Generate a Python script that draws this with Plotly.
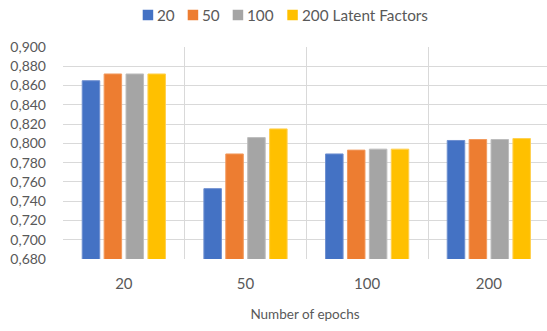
import plotly.graph_objects as go

# Data: RMSE-like score by number of epochs for each latent-factor setting
epochs = ["20", "50", "100", "200"]
series_names = ["20", "50", "100", "200 Latent Factors"]
lf20 = [0.865, 0.753, 0.789, 0.803]
lf50 = [0.872, 0.789, 0.793, 0.804]
lf100 = [0.872, 0.806, 0.794, 0.804]
lf200 = [0.872, 0.815, 0.794, 0.805]
y_ticks = [0.68, 0.70, 0.72, 0.74, 0.76, 0.78, 0.80, 0.82, 0.84, 0.86, 0.88, 0.90]

colors = ["#4472C4", "#ED7D31", "#A5A5A5", "#FFC000"]
edge_colors = ["#6E8FD0", "#F29A5E", "#BDBDBD", "#FFD050"]
text_color = "#595959"
grid_color = "#D9D9D9"
font_family = "Lato, 'Open Sans', sans-serif"

W, H = 547, 331
M_L, M_R, M_T, M_B = 63, 0, 47, 72
plot_w = W - M_L - M_R
plot_h = H - M_T - M_B


def px_x(px):
    return (px - M_L) / plot_w


def px_y(py):
    return (H - M_B - py) / plot_h


fig = go.Figure()
for name, vals, c, ec in zip(series_names, [lf20, lf50, lf100, lf200], colors, edge_colors):
    fig.add_trace(go.Bar(
        x=epochs, y=vals, name=name, showlegend=False,
        marker=dict(color=c, line=dict(color=ec, width=1)),
    ))

# Compact legend row above the plot: colour swatch followed closely by its label
legend_left = [142.7, 187.7, 232.7, 287.3]
swatch = 10.5
legend_mid = 15
for name, c, x0 in zip(series_names, colors, legend_left):
    fig.add_shape(
        type="rect", xref="paper", yref="paper",
        x0=px_x(x0), x1=px_x(x0 + swatch),
        y0=px_y(legend_mid + swatch / 2), y1=px_y(legend_mid - swatch / 2),
        fillcolor=c, line=dict(width=0),
    )
    fig.add_annotation(
        text=name, xref="paper", yref="paper",
        x=px_x(x0 + swatch + 2), y=px_y(legend_mid),
        xanchor="left", yanchor="middle", showarrow=False,
        font=dict(size=15.3, color=text_color),
    )

fig.update_layout(
    width=W, height=H,
    margin=dict(l=M_L, r=M_R, t=M_T, b=M_B),
    paper_bgcolor="white", plot_bgcolor="white",
    barmode="group", bargap=0.28, bargroupgap=0.2,
    font=dict(family=font_family, size=14, color=text_color),
    xaxis=dict(
        type="category", tickson="boundaries", range=[-0.5, 3.478],
        showgrid=True, gridcolor=grid_color, gridwidth=1,
        ticks="", showline=False, zeroline=False,
        tickfont=dict(size=15, color=text_color),
        ticklabelstandoff=14,
        title=dict(text="Number of epochs", standoff=18,
                   font=dict(size=13.5, color=text_color)),
    ),
    yaxis=dict(
        range=[0.68, 0.90], tickvals=y_ticks,
        ticktext=[f"{v:.3f}".replace(".", ",") for v in y_ticks],
        showgrid=True, gridcolor=grid_color, gridwidth=1,
        ticks="", showline=False, zeroline=False,
        tickfont=dict(size=14, color=text_color),
        ticklabelstandoff=16,
    ),
)

fig.write_html("out.html")
